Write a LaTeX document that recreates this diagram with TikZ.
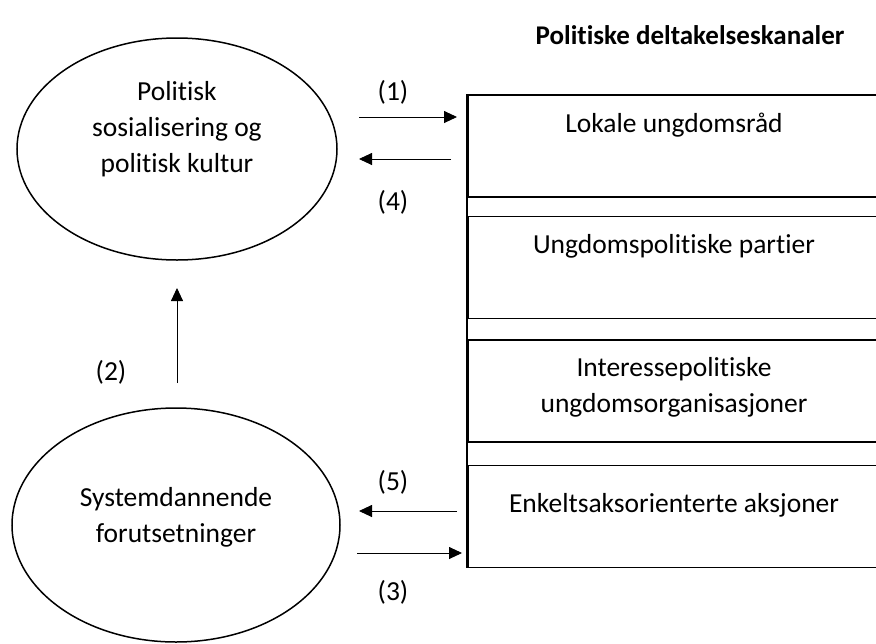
\documentclass[tikz,border=0pt]{standalone}
\usepackage{fontspec}
\setmainfont{Carlito}[Ligatures={NoCommon,NoContextual}, Contextuals=NoAlternate]
\usepackage{tikz}
\usetikzlibrary{
    positioning,
    arrows.meta,
    shapes.geometric
}

\tikzset{
    tekst/.style={font=\fontsize{27.5}{36}\selectfont, align=center, inner sep=0pt},
    sirkel/.style={draw, ellipse, line width=1.5pt, inner sep=0pt},
    kanal/.style={draw, rectangle, line width=1.6pt, inner sep=0pt, minimum width=412pt, minimum height=102pt},
    pil/.style={-{Triangle[length=13pt, width=12pt]}, line width=0.9pt}
}

\begin{document}
\begin{tikzpicture}[x=1pt, y=1pt]
        \useasboundingbox (0,0) rectangle (876,-643);
        \clip (0,0) rectangle (876,-643);

        % ellipsene til venstre
        \node[sirkel, minimum width=320pt, minimum height=222pt] (kultur) at (177,-149) {};
        \node[tekst] (kulturtekst) at (177,-129) {Politisk\\sosialisering og\\politisk kultur};
        \node[sirkel, minimum width=328pt, minimum height=234pt] (system) at (176,-525) {};
        \node[tekst] (systemtekst) at (176,-517) {Systemdannende\\forutsetninger};

        % kanalene til høyre
        \node[font=\fontsize{27}{32}\selectfont\bfseries, inner sep=0pt] (tittel) at (690,-35) {Politiske deltakelseskanaler};
        \node[kanal] (lokal) at (674,-146) {};
        \node[kanal] (parti) at (674,-267.5) {};
        \node[kanal] (interesse) at (674,-391) {};
        \node[kanal] (aksjon) at (674,-516.5) {};
        \draw[line width=1.6pt] (lokal.north west) -- (aksjon.south west);
        \node[tekst] (lokaltekst) at (674,-125) {Lokale ungdomsråd};
        \node[tekst] (partitekst) at (674,-246) {Ungdomspolitiske partier};
        \node[tekst] (interessetekst) at (674,-387) {Interessepolitiske\\ungdomsorganisasjoner};
        \node[tekst] (aksjontekst) at (674,-505) {Enkeltsaksorienterte aksjoner};

        % endepunkter for pilene
        \coordinate (p1a) at (359,-117);
        \coordinate (p1b) at (457,-117);
        \coordinate (p4a) at (451,-159);
        \coordinate (p4b) at (359,-159);
        \coordinate (p2a) at (177,-383);
        \coordinate (p2b) at (177,-288);
        \coordinate (p5a) at (457,-511);
        \coordinate (p5b) at (359,-511);
        \coordinate (p3a) at (357,-553);
        \coordinate (p3b) at (462,-553);

        \draw[pil] (p1a) -- (p1b);
        \draw[pil] (p4a) -- (p4b);
        \draw[pil] (p2a) -- (p2b);
        \draw[pil] (p5a) -- (p5b);
        \draw[pil] (p3a) -- (p3b);

        \node[tekst] (n1) at (393,-92) {(1)};
        \node[tekst] (n4) at (393,-202) {(4)};
        \node[tekst] (n2) at (111,-372) {(2)};
        \node[tekst] (n5) at (393,-482) {(5)};
        \node[tekst] (n3) at (393,-592) {(3)};
    \end{tikzpicture}
\end{document}
